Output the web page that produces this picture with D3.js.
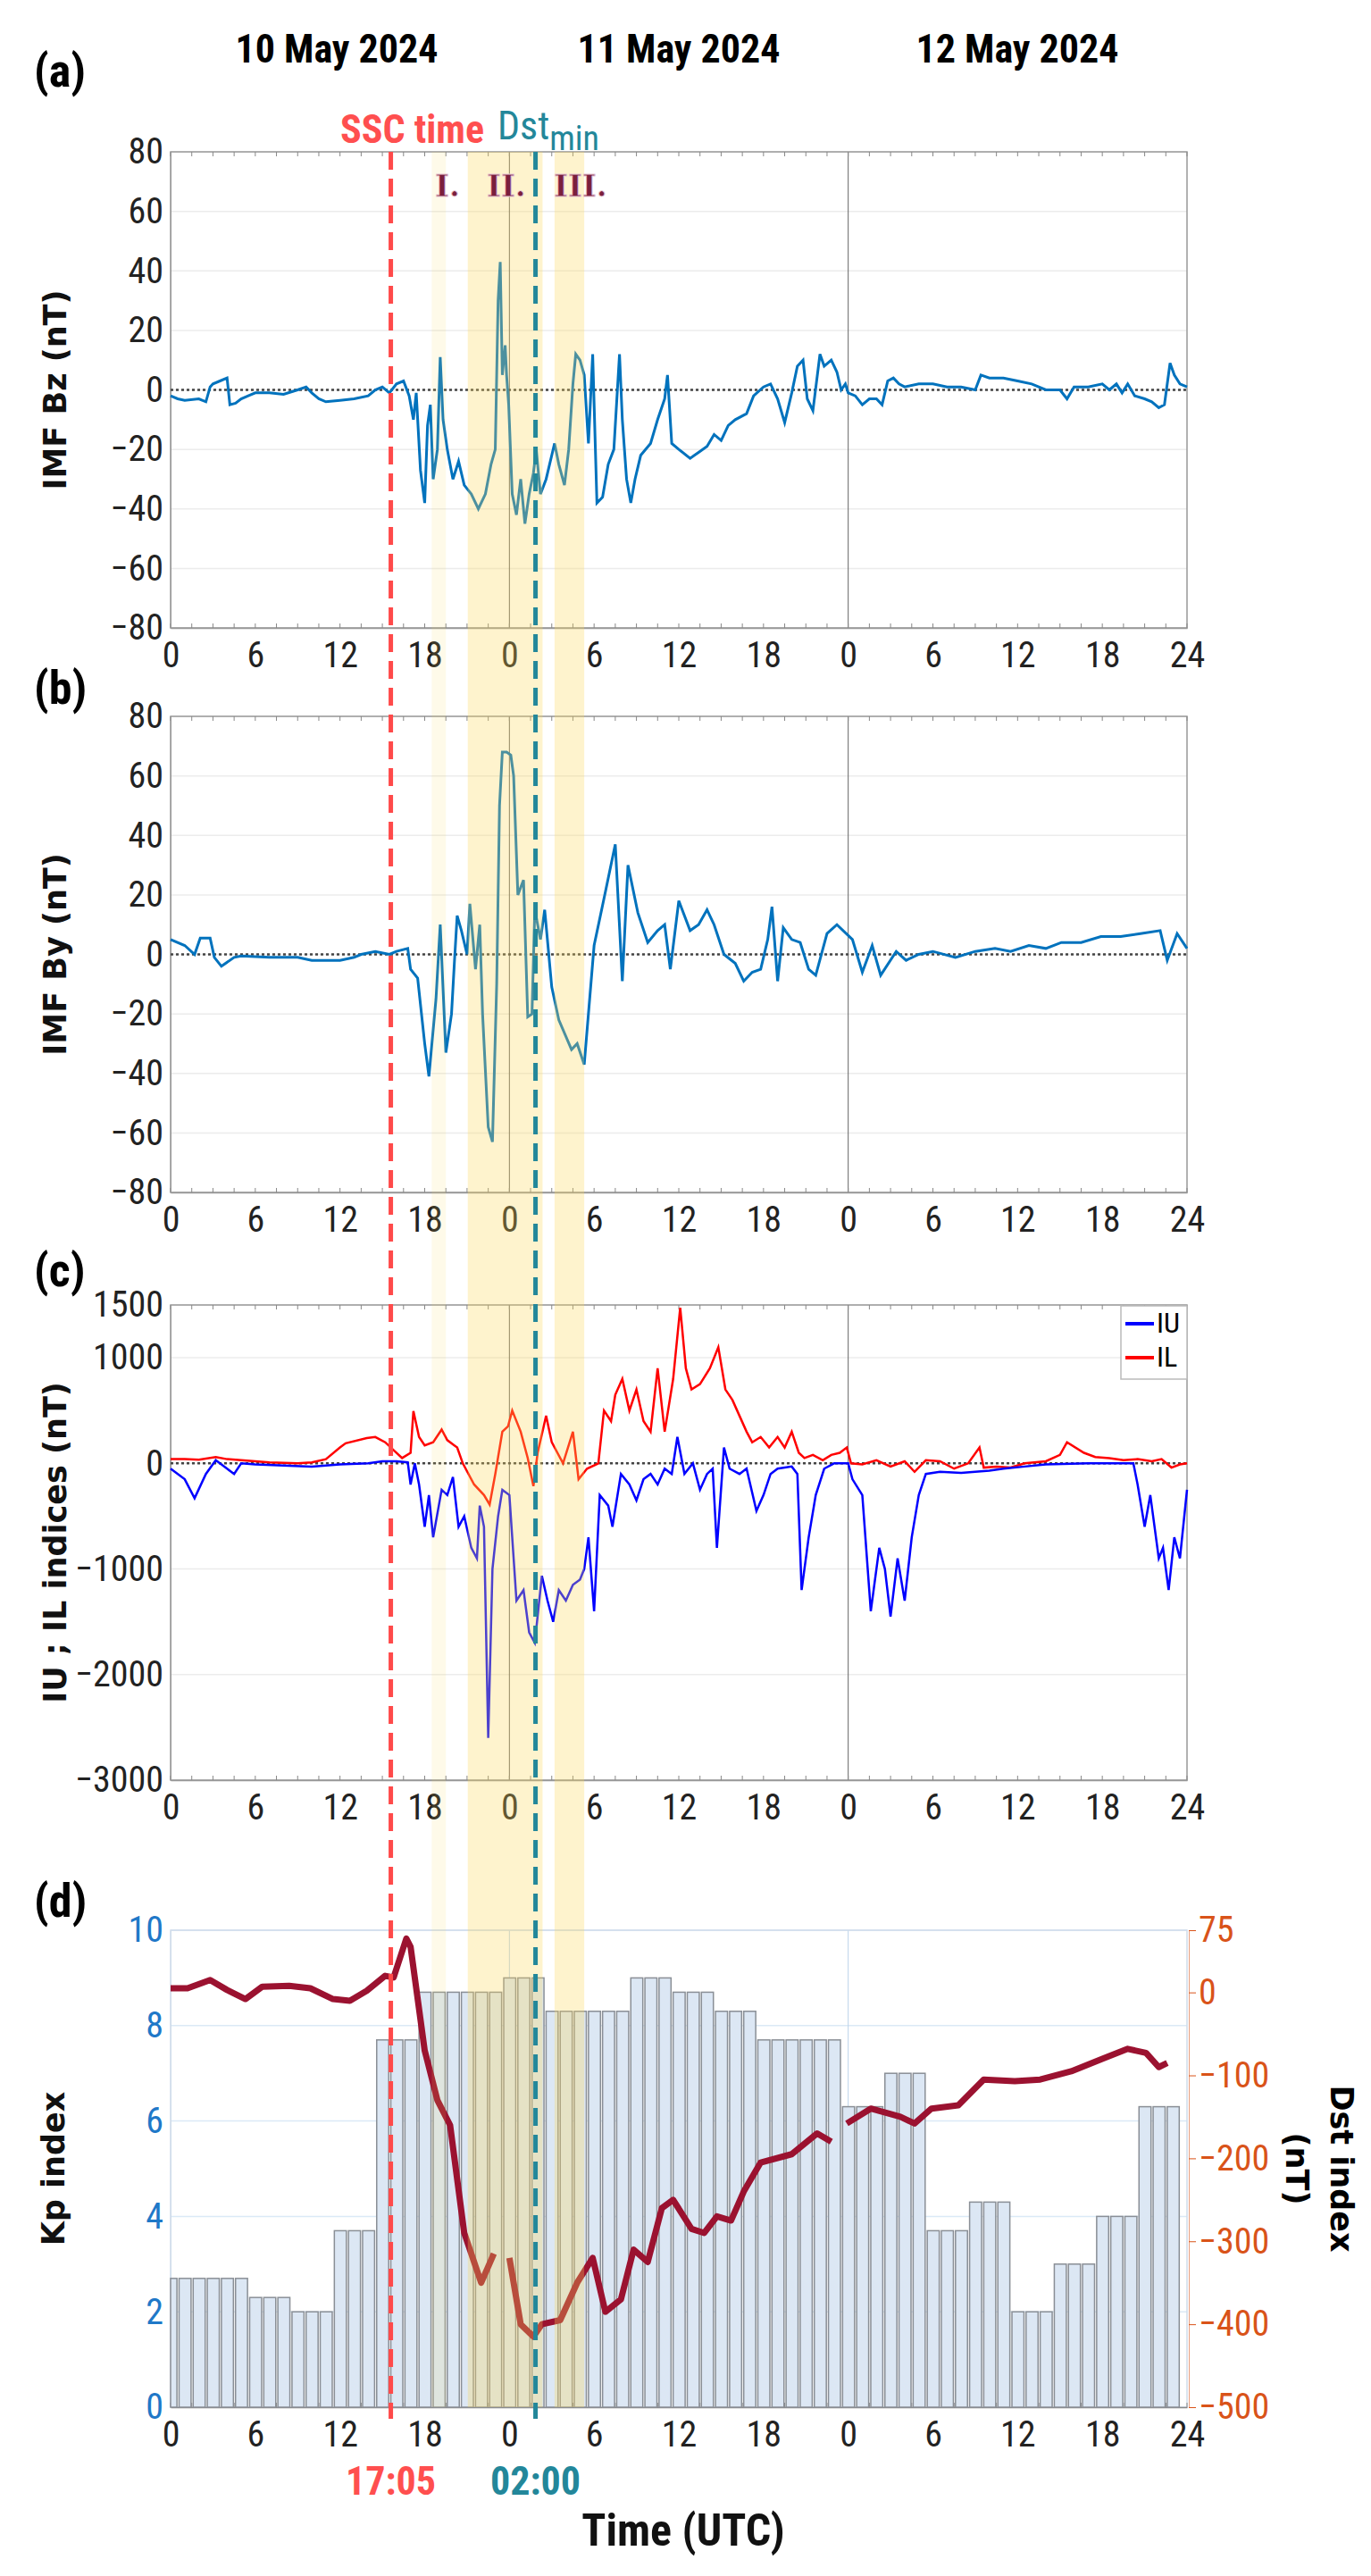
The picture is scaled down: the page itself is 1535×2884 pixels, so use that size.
<!DOCTYPE html>
<html><head><meta charset="utf-8">
<script src="https://cdn.jsdelivr.net/npm/d3@7"></script>
<style>body{margin:0;background:#fff}</style></head>
<body><svg id="c" width="1535" height="2884"></svg>
<script>
// ---------- DATA ----------
const hourTicks = [0,6,12,18,24,30,36,42,48,54,60,66,72];
const dayLabels = ["10 May 2024","11 May 2024","12 May 2024"];
const bzTicks = [-80,-60,-40,-20,0,20,40,60,80];
const byTicks = [-80,-60,-40,-20,0,20,40,60,80];
const iTicks = [-3000,-2000,-1000,0,1000,1500];
const kpTicks = [0,2,4,6,8,10];
const dstTicks = [-500,-400,-300,-200,-100,0,75];
const sscHour = 15.6, dstMinHour = 25.85;
const shades = [[18.5,19.5,0.45],[21.05,26.35,1],[27.2,29.3,1]];
const bz = [[0,-2],[0.5,-3],[1,-3.5],[2,-3],[2.5,-4],[2.8,1],[3,2],[3.5,3],[4,4],[4.2,-5],[4.6,-4.5],[5,-3],[5.5,-2],[6,-1],[7,-1],[8,-1.5],[9,0],[9.6,1],[10,-1],[10.5,-3],[11,-4],[12,-3.5],[13,-3],[14,-2],[14.5,0],[15,1],[15.5,-1],[16,2],[16.5,3],[16.9,-2],[17.2,-10],[17.4,-1],[17.7,-27],[18,-38],[18.2,-12],[18.4,-5],[18.6,-30],[18.9,-20],[19.1,11],[19.3,-10],[19.6,-20],[20,-30],[20.4,-24],[20.8,-32],[21.3,-35],[21.8,-40],[22.3,-35],[22.7,-25],[23,-20],[23.2,30],[23.35,43],[23.5,5],[23.7,15],[23.8,5],[23.95,-5],[24.2,-35],[24.5,-42],[24.8,-30],[25.1,-45],[25.4,-35],[25.7,-28],[25.9,-20],[26.2,-35],[26.6,-30],[26.9,-24],[27.2,-18],[27.5,-25],[27.9,-32],[28.2,-20],[28.5,2],[28.7,12],[29,10],[29.3,5],[29.6,-18],[29.9,12],[30.2,-38],[30.6,-36],[31,-25],[31.4,-20],[31.8,12],[32,-10],[32.3,-30],[32.6,-38],[32.9,-30],[33.3,-22],[34,-18],[34.5,-10],[35,-3],[35.2,5],[35.5,-18],[36,-20],[36.8,-23],[37.4,-21],[38,-19],[38.5,-15],[39,-17],[39.5,-12],[40,-10],[40.8,-8],[41.3,-2],[42,1],[42.5,2],[43,-3],[43.5,-11],[44,-1],[44.4,8],[44.8,10],[45.1,-3],[45.5,-7],[46,12],[46.3,8],[46.8,10],[47.2,6],[47.5,0],[47.8,2],[48,-1],[48.5,-2],[49,-5],[49.5,-3],[50,-3],[50.4,-5],[50.8,3],[51.2,4],[51.6,2],[52,1],[53,2],[54,2],[55,1],[56,1],[57,0],[57.4,5],[58,4],[59,4],[60,3],[61,2],[62,0],[63,0],[63.5,-3],[64,1],[65,1],[66,2],[66.5,0],[67,2],[67.4,-1],[67.8,2],[68.3,-2],[69,-3],[69.5,-4],[70,-6],[70.4,-5],[70.8,9],[71.1,5],[71.5,2],[72,1]];
const by = [[0,5],[1,3],[1.7,0],[2.1,5.5],[2.8,5.5],[3.1,-1],[3.6,-4],[4.5,-1],[5,-0.5],[7,-1],[9,-1],[10,-2],[12,-2],[13,-1],[13.5,0],[14.5,1],[15.5,0],[16,1],[16.8,2],[17,-5],[17.5,-8],[18,-30],[18.3,-41],[18.8,-15],[19.1,10],[19.5,-33],[19.9,-20],[20.1,-3],[20.3,13],[20.6,8],[21,0],[21.2,17],[21.6,-5],[21.9,10],[22.1,-20],[22.5,-58],[22.8,-63],[23.1,-10],[23.3,50],[23.5,68],[23.8,68],[24.1,67],[24.3,60],[24.6,20],[25,25],[25.3,-21],[25.6,-20],[25.8,15],[26.2,5],[26.5,15],[27,-11],[27.5,-22],[28.4,-32],[28.8,-30],[29.3,-37],[30,3],[30.8,21],[31.5,37],[32,-9],[32.4,30],[33.1,14],[33.8,4],[34.5,8],[35,10],[35.4,-5],[36,18],[36.8,8],[37.4,10],[38,15],[38.5,10],[39.2,0],[40,-3],[40.6,-9],[41.2,-6],[41.8,-5],[42.3,5],[42.6,16],[43,-9],[43.4,9],[44,5],[44.6,4],[45.2,-5],[45.7,-7],[46.5,7],[47.2,10],[48.3,5],[49,-6],[49.7,3],[50.3,-7],[51.4,1],[52.1,-2],[53,0],[54,1],[55.6,-1],[57,1],[58.4,2],[59.5,1],[60.8,3],[62,2],[63.1,4],[64.5,4],[65.9,6],[67.3,6],[68.7,7],[70.1,8],[70.6,-2],[71.3,7],[72,2]];
const il = [[0,40],[1,40],[2,35],[3.2,60],[4,40],[5,30],[6,20],[7,10],[9,0],[10,10],[11,40],[12,150],[12.4,190],[13.9,240],[14.5,250],[15.2,200],[16.4,50],[17,100],[17.2,495],[17.6,250],[18,170],[18.6,200],[19.2,320],[19.6,220],[20.3,150],[20.7,0],[21.5,-200],[22.2,-300],[22.6,-390],[23,-100],[23.5,300],[23.9,350],[24.2,500],[24.8,300],[25.3,50],[25.7,-215],[26,100],[26.6,450],[27,200],[27.8,0],[28.5,300],[28.9,-150],[29.5,-50],[30.3,0],[30.7,500],[31.2,400],[31.5,650],[32,800],[32.5,500],[33,700],[33.5,400],[34,300],[34.5,900],[35,300],[35.6,800],[36.1,1474],[36.5,900],[36.9,700],[37.5,750],[38.2,900],[38.8,1100],[39.3,700],[39.8,600],[40.3,450],[40.8,300],[41.2,200],[41.8,250],[42.4,150],[43,250],[43.5,150],[44,300],[44.5,100],[44.9,50],[45.5,80],[46.2,30],[46.8,80],[47.4,100],[47.9,150],[48.2,0],[49,-10],[50,30],[51,-30],[52,20],[52.7,-80],[53.5,30],[54.5,20],[55.5,-50],[56.5,0],[57.3,150],[57.6,-40],[58.5,-30],[59.5,-40],[60.5,0],[62,20],[63,80],[63.5,200],[64.7,100],[65.5,60],[66.5,50],[67.5,30],[68.5,40],[69.5,20],[70.2,40],[70.9,-40],[71.5,-10],[72,0]];
const iu = [[0,-50],[1,-150],[1.7,-330],[2.5,-100],[3.2,30],[4,-50],[4.5,-100],[5,0],[6,-10],[8,-20],[10,-30],[12,-10],[14,0],[15,20],[16,20],[16.8,10],[17,-200],[17.3,0],[17.6,-200],[18,-600],[18.3,-300],[18.6,-700],[19,-400],[19.2,-250],[19.6,-300],[20,-130],[20.4,-600],[20.8,-500],[21.3,-800],[21.7,-900],[21.9,-400],[22.2,-600],[22.5,-2600],[22.8,-1000],[23.2,-500],[23.5,-250],[24,-300],[24.5,-1300],[25,-1200],[25.4,-1600],[25.8,-1700],[26.3,-1065],[26.7,-1300],[27.1,-1500],[27.5,-1200],[28,-1300],[28.5,-1150],[29,-1100],[29.3,-1000],[29.6,-700],[30,-1400],[30.4,-300],[31,-400],[31.3,-600],[31.9,-100],[32.5,-200],[33,-350],[33.5,-150],[34,-100],[34.5,-200],[35,-50],[35.5,-100],[35.9,250],[36.4,-100],[37,0],[37.5,-250],[38,-100],[38.4,-50],[38.7,-800],[39.2,150],[39.6,-50],[40.3,-100],[40.8,-50],[41.5,-450],[42,-300],[42.5,-100],[43,-50],[44,-30],[44.4,-100],[44.7,-1200],[45.2,-700],[45.7,-300],[46.3,-50],[47,0],[48,0],[48.3,-150],[49,-300],[49.6,-1400],[50.2,-800],[50.6,-1000],[51,-1450],[51.5,-900],[52,-1300],[52.5,-700],[53,-300],[53.5,-100],[54.5,-80],[56,-90],[57,-80],[58,-70],[59,-50],[60.5,-30],[62,-10],[65,0],[67,0],[68.2,0],[68.5,-200],[69,-600],[69.4,-300],[70,-900],[70.3,-800],[70.7,-1200],[71.1,-700],[71.5,-900],[72,-250]];
const kp3h = [2.7,2.7,2.3,2.0,3.7,7.7,8.7,8.7, 9.0,8.3,8.3,9.0,8.7,8.3,7.7,7.7, 6.3,7.0,3.7,4.3,2.0,3.0,4.0,6.3];
const dst = [[0,5],[1.2,5],[2.8,15],[4,3],[5.3,-8],[6.5,7],[8.4,8],[9.9,5],[11.5,-8],[12.7,-10],[13.9,2],[15.2,20],[15.8,18],[16.7,65],[17,55],[18,-70],[18.9,-130],[19.8,-160],[20.8,-290],[22,-350],[22.9,-315],[23.4,null],[24,-320],[24.8,-400],[25.7,-415],[26.3,-400],[27.6,-395],[28.8,-350],[29.9,-320],[30.8,-385],[31.9,-370],[32.8,-310],[33.8,-325],[34.8,-260],[35.6,-250],[36.9,-285],[37.8,-290],[38.7,-270],[39.7,-275],[40.6,-240],[41.8,-205],[44,-195],[45.8,-170],[46.8,-180],[47.3,null],[47.9,-158],[49.6,-140],[51.7,-150],[52.7,-158],[53.9,-140],[55.8,-136],[57.6,-105],[59.8,-107],[61.6,-105],[63.8,-95],[66,-80],[67.8,-68],[69.1,-73],[70,-90],[70.6,-85]];

// ---------- DRAW ----------
const svg = d3.select("#c");
const NARROW = "'Liberation Sans Narrow','Arial Narrow','Roboto Condensed',Roboto,sans-serif";
const BOLDW = "'DejaVu Sans',Verdana,sans-serif";
const x = d3.scaleLinear().domain([0,72]).range([191,1329]);
const panels = [
  {top:170,bot:703,dom:[-80,80],ticks:bzTicks,label:"IMF Bz (nT)",tag:"(a)",tagY:97},
  {top:802,bot:1335,dom:[-80,80],ticks:byTicks,label:"IMF By (nT)",tag:"(b)",tagY:788},
  {top:1461,bot:1993,dom:[-3000,1500],ticks:iTicks,label:"IU ; IL indices (nT)",tag:"(c)",tagY:1440},
  {top:2161,bot:2695,dom:[0,10],ticks:kpTicks,label:"Kp index",tag:"(d)",tagY:2146}
];
panels.forEach(p=>{p.y=d3.scaleLinear().domain(p.dom).range([p.bot,p.top]);});

dayLabels.forEach((t,i)=>svg.append("text").attr("x",[377,760,1139][i]).attr("y",70)
  .attr("text-anchor","middle").attr("font-family",NARROW).attr("font-weight","bold")
  .attr("font-size",44).text(t));

const hourFmt = h => h===72?"24":String(h%24);
const intFmt = d3.format("d");

panels.forEach((p,pi)=>{
  const g = svg.append("g");
  const gridCol = pi===3?"#dbe9f6":"#ececec";
  p.ticks.forEach(t=>g.append("line").attr("x1",x(0)).attr("x2",x(72)).attr("y1",p.y(t)).attr("y2",p.y(t))
    .attr("stroke",gridCol).attr("stroke-width",1.5));
  [24,48].forEach(h=>g.append("line").attr("x1",x(h)).attr("x2",x(h)).attr("y1",p.top).attr("y2",p.bot)
    .attr("stroke",pi===3?"#bcd3ea":"#666").attr("stroke-width",1));
  g.append("rect").attr("x",x(0)).attr("y",p.top).attr("width",x(72)-x(0)).attr("height",p.bot-p.top)
    .attr("fill","none").attr("stroke",pi===3?"#cfdcea":"#999").attr("stroke-width",1.5);
  const xa = d3.axisBottom(x).tickValues(hourTicks).tickFormat(hourFmt).tickSize(0).tickPadding(14);
  const xg = g.append("g").attr("transform",`translate(0,${p.bot})`).call(xa);
  xg.select(".domain").attr("stroke",pi===3?"#888":"#999").attr("stroke-width",1.5);
  xg.selectAll("text").attr("font-family",NARROW).attr("font-size",40).attr("fill","#222").attr("dy","0.75em");
  d3.range(0,73,1.5).forEach(h=>{
    g.append("line").attr("x1",x(h)).attr("x2",x(h)).attr("y1",p.bot).attr("y2",p.bot-5).attr("stroke","#888");
    if(pi<3) g.append("line").attr("x1",x(h)).attr("x2",x(h)).attr("y1",p.top).attr("y2",p.top+5).attr("stroke","#888");
  });
  const ya = d3.axisLeft(p.y).tickValues(p.ticks).tickFormat(intFmt).tickSize(0).tickPadding(8);
  const yg = g.append("g").attr("transform",`translate(${x(0)},0)`).call(ya);
  yg.select(".domain").attr("stroke",pi===3?"#cfdcea":"#999");
  yg.selectAll("text").attr("font-family",NARROW).attr("font-size",40).attr("fill",pi===3?"#1f78c8":"#222");
  svg.append("text").attr("transform",`translate(${pi===3?72:74},${(p.top+p.bot)/2}) rotate(-90)`)
    .attr("text-anchor","middle").attr("font-family",BOLDW).attr("font-weight","bold").attr("font-size",35)
    .attr("fill","#111").text(p.label);
  svg.append("text").attr("x",38).attr("y",p.tagY).attr("font-family",NARROW).attr("font-weight","bold")
    .attr("font-size",52).text(p.tag);
  if(pi<3){
    g.append("line").attr("x1",x(0)).attr("x2",x(72)).attr("y1",p.y(0)).attr("y2",p.y(0))
      .attr("stroke","#444").attr("stroke-width",2.5).attr("stroke-dasharray","3,3");
  }
});

const line = (p)=>d3.line().defined(d=>d[1]!==null).x(d=>x(d[0])).y(d=>p.y(d[1]));
const pa=panels[0],pb=panels[1],pc=panels[2],pd=panels[3];
svg.append("path").datum(bz).attr("d",line(pa)).attr("fill","none").attr("stroke","#0072bd").attr("stroke-width",3);
svg.append("path").datum(by).attr("d",line(pb)).attr("fill","none").attr("stroke","#0072bd").attr("stroke-width",3);
svg.append("path").datum(il).attr("d",line(pc)).attr("fill","none").attr("stroke","#ff0000").attr("stroke-width",2.5);
svg.append("path").datum(iu).attr("d",line(pc)).attr("fill","none").attr("stroke","#0000ff").attr("stroke-width",2.5);
const lg = svg.append("g");
lg.append("rect").attr("x",1255).attr("y",1462).attr("width",74).attr("height",82).attr("fill","#fff").attr("stroke","#bbb").attr("stroke-width",1.5);
[["IU","#0000ff",1492],["IL","#ff0000",1530]].forEach(([t,c,yy])=>{
  lg.append("line").attr("x1",1260).attr("x2",1292).attr("y1",yy-10).attr("y2",yy-10).attr("stroke",c).attr("stroke-width",4);
  lg.append("text").attr("x",1295).attr("y",yy).attr("font-family",NARROW).attr("font-size",32).text(t);
});

const kpHourly = d3.range(72).map(h=>({h, v:kp3h[Math.floor(h/3)]}));
svg.append("g").selectAll("rect").data(kpHourly).join("rect")
  .attr("x",d=>x(Math.max(0,d.h-0.4))).attr("width",d=>x(d.h+0.45)-x(Math.max(0,d.h-0.4)))
  .attr("y",d=>pd.y(d.v)).attr("height",d=>pd.y(0)-pd.y(d.v))
  .attr("fill","#dce7f4").attr("stroke","#8a8f96").attr("stroke-width",1.5);
const yd = d3.scaleLinear().domain([-500,75]).range([pd.bot,pd.top]);
const dg = svg.append("g").attr("transform",`translate(${x(72)+2},0)`).call(d3.axisRight(yd).tickValues(dstTicks).tickSize(8).tickPadding(3));
dg.select(".domain").attr("stroke","#e8a080");
dg.selectAll("line").attr("stroke","#d95319");
dg.selectAll("text").attr("font-family",NARROW).attr("font-size",40).attr("fill","#d95319");
svg.append("path").datum(dst).attr("d",d3.line().defined(d=>d[1]!==null).x(d=>x(d[0])).y(d=>yd(d[1])))
  .attr("fill","none").attr("stroke","#9b1230").attr("stroke-width",7).attr("stroke-linejoin","round");
svg.append("text").attr("transform",`translate(1490,${(pd.top+pd.bot)/2}) rotate(90)`).attr("text-anchor","middle")
  .attr("font-family",BOLDW).attr("font-weight","bold").attr("font-size",35).text("Dst index");
svg.append("text").attr("transform",`translate(1440,${(pd.top+pd.bot)/2}) rotate(90)`).attr("text-anchor","middle")
  .attr("font-family",BOLDW).attr("font-weight","bold").attr("font-size",35).text("(nT)");

shades.forEach(([a,b,o])=>svg.append("rect").attr("x",x(a)).attr("width",x(b)-x(a)).attr("y",170).attr("height",2695-170)
  .attr("fill","#fbd85a").attr("opacity",0.3*o));

svg.append("line").attr("x1",x(sscHour)).attr("x2",x(sscHour)).attr("y1",170).attr("y2",2708)
  .attr("stroke","#ff4a4a").attr("stroke-width",5).attr("stroke-dasharray","20,10");
svg.append("line").attr("x1",x(dstMinHour)).attr("x2",x(dstMinHour)).attr("y1",170).attr("y2",2708)
  .attr("stroke","#23879a").attr("stroke-width",5).attr("stroke-dasharray","20,10");

svg.append("text").attr("x",542).attr("y",160).attr("text-anchor","end").attr("font-family",NARROW).attr("font-weight","bold")
  .attr("font-size",44).attr("fill","#ff4f4f").text("SSC time");
const dt = svg.append("text").attr("x",557).attr("y",156).attr("font-family",NARROW).attr("font-size",44).attr("fill","#23879a");
dt.append("tspan").text("Dst");
dt.append("tspan").attr("dy",12).attr("font-size",38).text("min");
[["I.",487],["II.",545],["III.",620]].forEach(([t,xx])=>svg.append("text").attr("x",xx).attr("y",220)
  .attr("font-family","'DejaVu Serif',serif").attr("font-weight","bold").attr("font-size",34)
  .attr("fill","#7a1f3d").attr("stroke","#e8c9d4").attr("stroke-width",0.8).text(t));

svg.append("text").attr("x",x(sscHour)).attr("y",2793).attr("text-anchor","middle").attr("font-family",NARROW).attr("font-weight","bold")
  .attr("font-size",44).attr("fill","#ff4f4f").text("17:05");
svg.append("text").attr("x",x(dstMinHour)).attr("y",2793).attr("text-anchor","middle").attr("font-family",NARROW).attr("font-weight","bold")
  .attr("font-size",44).attr("fill","#23879a").text("02:00");
svg.append("text").attr("x",765).attr("y",2850).attr("text-anchor","middle").attr("font-family",NARROW).attr("font-weight","bold")
  .attr("font-size",50).attr("fill","#111").text("Time (UTC)");
</script></body></html>
